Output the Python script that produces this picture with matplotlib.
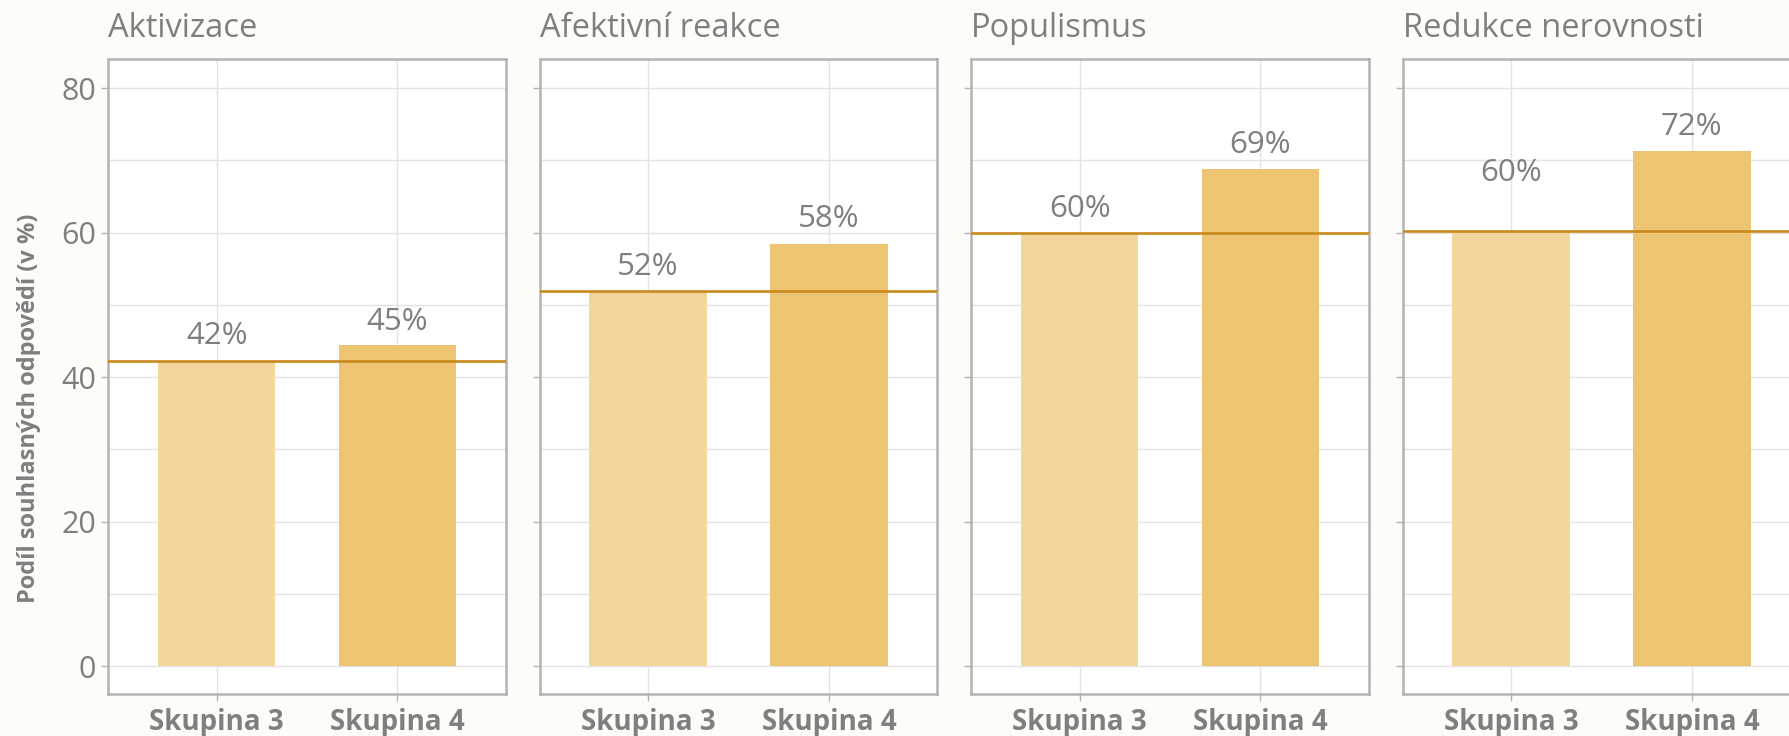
import matplotlib
matplotlib.use("Agg")
import matplotlib.pyplot as plt
from matplotlib.ticker import MultipleLocator

plt.rcParams['font.family'] = ['Open Sans', 'DejaVu Sans']

# ---- data ----
panels = ["Aktivizace", "Afektivní reakce", "Populismus", "Redukce nerovnosti"]
groups = ["Skupina 3", "Skupina 4"]
skupina3 = [42.3, 51.9, 60.0, 60.2]
skupina4 = [44.5, 58.5, 68.8, 71.3]
reference = [42.3, 51.9, 60.0, 60.2]
labels3 = ["42%", "52%", "60%", "60%"]
labels4 = ["45%", "58%", "69%", "72%"]
label_y3 = [45.7, 55.2, 63.3, 68.2]
label_y4 = [47.7, 61.9, 72.1, 74.6]
yticks = [0, 20, 40, 60, 80]

# ---- style ----
BG = "#FDFCF8"
TXT = "#7F7F7F"
BORDER = "#B3B3B3"
GRID = "#E3E3E3"
C3 = "#F3D69D"
C4 = "#EDC472"
LINE = "#C88A1C"

W, H = 1790, 736
fig = plt.figure(figsize=(W / 100, H / 100), dpi=100, facecolor=BG)

lefts = [108.3, 539.8, 971.3, 1402.8]
pw = 397.4
top_px, bot_px = 59.3, 694.3

for i, name in enumerate(panels):
    ax = fig.add_axes([lefts[i] / W, 1 - bot_px / H, pw / W, (bot_px - top_px) / H])
    ax.set_facecolor("white")
    x = [1, 2]
    ax.bar(x, [skupina3[i], skupina4[i]], width=0.65, color=[C3, C4], zorder=2)
    ax.axhline(reference[i], color=LINE, lw=1.9, zorder=3)
    for xi, ly, lab in zip(x, [label_y3[i], label_y4[i]], [labels3[i], labels4[i]]):
        ax.text(xi, ly, lab, ha="center", va="center", fontsize=22.5, color=TXT, zorder=4)
    ax.set_xlim(0.4, 2.6)
    ax.set_ylim(-3.9, 84.0)
    ax.set_yticks(yticks)
    ax.yaxis.set_minor_locator(MultipleLocator(10))
    ax.set_xticks(x)
    ax.grid(True, which="both", color=GRID, lw=1.0, zorder=0)
    ax.set_axisbelow(True)
    for s in ax.spines.values():
        s.set_color(BORDER)
        s.set_linewidth(1.8)
    ax.tick_params(which="major", length=5, width=1.0, color=BORDER, colors=TXT)
    ax.tick_params(which="minor", length=0)
    ax.tick_params(axis="y", labelsize=22, pad=4)
    ax.tick_params(axis="x", labelsize=20, pad=5)
    ax.set_xticklabels(groups, fontweight="bold", color=TXT)
    if i == 0:
        ax.set_ylabel("Podíl souhlasných odpovědí (v %)", fontsize=17,
                      fontweight="bold", color=TXT)
        ax.yaxis.set_label_coords(-0.17, 0.45)
    else:
        ax.set_yticklabels([])
    fig.text(lefts[i] / W, 1 - 37 / H, name, ha="left", va="baseline",
             fontsize=23.5, color=TXT)

fig.savefig("out.png", dpi=100, facecolor=BG)
